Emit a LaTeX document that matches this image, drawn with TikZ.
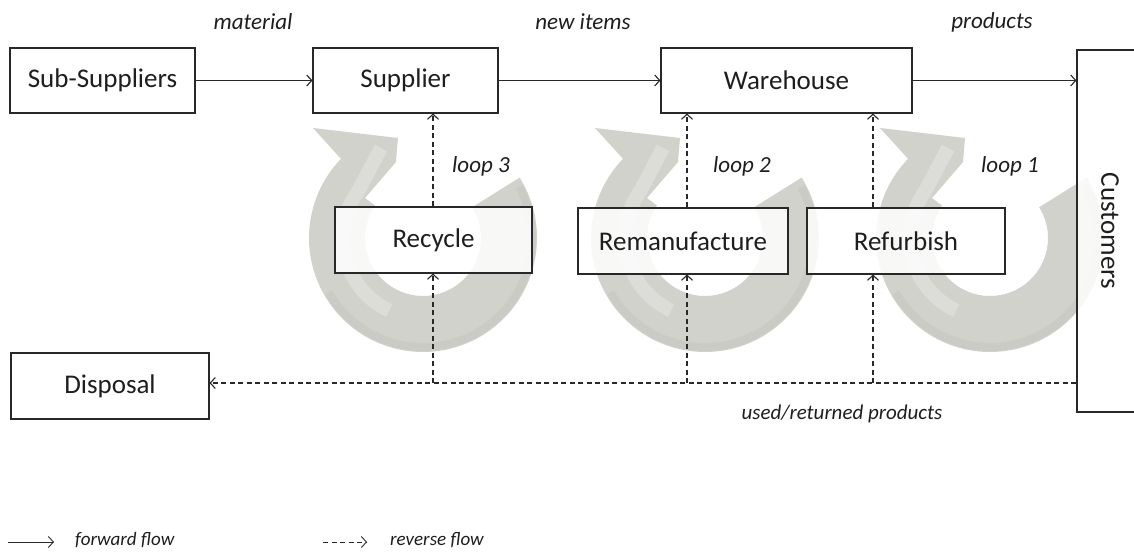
\documentclass[tikz,border=0pt]{standalone}
\usepackage{fontspec}
\setmainfont{Carlito}
\usetikzlibrary{arrows.meta}
\definecolor{ringbase}{RGB}{210,210,205}
\definecolor{ringdark}{RGB}{198,198,193}
\definecolor{ringlight}{RGB}{234,234,232}
\definecolor{linecol}{RGB}{40,40,40}
\definecolor{txt}{RGB}{30,30,30}

\tikzset{
  % curved grey arrow drawn around a loop (screen angles, y pointing down)
  loopring/.pic={
    \fill[ringbase] (-32:114) arc[start angle=-32,end angle=224,radius=114]
      -- (-110,-110) -- (-25,-100) -- (-27,-76) -- (-58,-40) -- (214:58)
      arc[start angle=214,end angle=-32,radius=58] -- cycle;
    % darker rim along the outer edge
    \draw[ringdark, line width=8pt, opacity=0.5]
      (-28:109) arc[start angle=-28,end angle=150,radius=109];
    % soft highlight along the inner side and into the head
    \draw[ringlight, line width=14pt, opacity=0.45, line join=round]
      (115:80) arc[start angle=115,end angle=216,radius=80] -- (-42,-90);
  }
}

\begin{document}
\begin{tikzpicture}[x=1pt,y=-1pt,
  box/.style={draw=linecol, line width=1.1pt, fill=white, fill opacity=0.85,
    text opacity=1, inner sep=0pt, text=txt, font=\fontsize{27}{30}\selectfont},
  lbl/.style={inner sep=0pt, text=txt, font=\fontsize{23}{26}\selectfont\itshape},
  leg/.style={inner sep=0pt, text=txt, font=\fontsize{19}{22}\selectfont\itshape},
  fwd/.style={draw=linecol, line width=1.1pt, -{Straight Barb[length=5pt,width=11pt]}},
  rev/.style={fwd, dash pattern=on 5pt off 3.5pt},
]
\useasboundingbox (0,0) rectangle (1134,551);
\fill[white] (0,0) rectangle (1134,551);

% the three loops behind the boxes
\pic at (423,238) {loopring};
\pic at (705,238) {loopring};
\pic at (990,238) {loopring};

% forward chain
\node[box, minimum width=185pt, minimum height=65pt] (subs) at (102.5,80.5) {Sub-Suppliers};
\node[box, minimum width=185pt, minimum height=65pt] (sup) at (405.5,80.5) {Supplier};
\node[box, minimum width=251pt, minimum height=65pt] (wh) at (786.5,80.5) {Warehouse};
\node[box, minimum width=66pt, minimum height=362pt] (cust) at (1110,231) {\rotatebox{-90}{Customers}};

% recovery options
\node[box, minimum width=197pt, minimum height=66pt] (rec) at (433.5,240) {Recycle};
\node[box, minimum width=210pt, minimum height=66pt] (reman) at (683,241) {Remanufacture};
\node[box, minimum width=198pt, minimum height=66pt] (refurb) at (906,241) {Refurbish};
\node[box, minimum width=198pt, minimum height=66pt] (disp) at (110,386) {Disposal};

% forward flow
\draw[fwd] (subs) -- (sup);
\draw[fwd] (sup) -- (wh);
\draw[fwd] (wh.east) -- (wh.east -| cust.west);

% reverse flow
\coordinate (retY) at (0,383);
\draw[rev] (cust.west |- retY) -- (disp.east |- retY);
\coordinate (v3) at (433,383);
\coordinate (v2) at (687,383);
\coordinate (v1) at (873,383);
\draw[rev] (v3) -- (v3 |- rec.south);
\draw[rev] (v3 |- rec.north) -- (v3 |- sup.south);
\draw[rev] (v2) -- (v2 |- reman.south);
\draw[rev] (v2 |- reman.north) -- (v2 |- wh.south);
\draw[rev] (v1) -- (v1 |- refurb.south);
\draw[rev] (v1 |- refurb.north) -- (v1 |- wh.south);

% flow labels
\node[lbl] (lmat) at (253,22) {material};
\node[lbl] (lnew) at (583,22) {new items};
\node[lbl] (lprod) at (992,22) {products};
\node[lbl] (lloop3) at (481,166) {loop 3};
\node[lbl] (lloop2) at (742,166) {loop 2};
\node[lbl] (lloop1) at (1010,166) {loop 1};
\node[lbl, font=\fontsize{21}{24}\selectfont\itshape] (lused) at (842,414) {used/returned products};

% legend
\coordinate (fa) at (8,542);
\coordinate (fb) at (54,542);
\coordinate (ra) at (323,542);
\coordinate (rb) at (367,542);
\draw[fwd, line width=0.9pt] (fa) -- (fb);
\node[leg, anchor=west] (lfwd) at (75,540) {forward flow};
\draw[rev, line width=0.9pt] (ra) -- (rb);
\node[leg, anchor=west] (lrev) at (390,540) {reverse flow};
\end{tikzpicture}
\end{document}
